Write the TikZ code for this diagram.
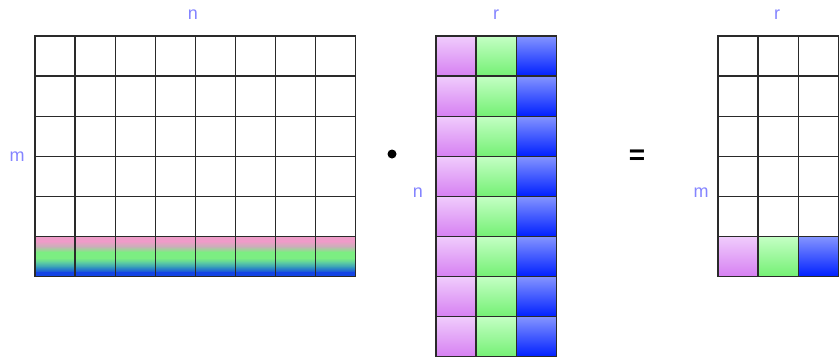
\documentclass[tikz,border=0pt]{standalone}
\usepackage{fontspec}
\setmainfont{Liberation Sans}
\definecolor{rowblue}{HTML}{1444E4}
\definecolor{rowtealb}{HTML}{3090C0}
\definecolor{rowteal}{HTML}{58C8A4}
\definecolor{rowgreen}{HTML}{7CEE82}
\definecolor{rowgray}{HTML}{C4B4B4}
\definecolor{rowpink}{HTML}{EE9CC8}
\definecolor{lbl}{HTML}{8484FF}
\definecolor{gridc}{HTML}{2A2A2A}
\definecolor{pTop}{HTML}{F0CCFC}
\definecolor{pBot}{HTML}{D680F2}
\definecolor{gTop}{HTML}{C4FFC4}
\definecolor{gBot}{HTML}{74F074}
\definecolor{bTop}{HTML}{8494FF}
\definecolor{bBot}{HTML}{0020FF}
\begin{document}
\begin{tikzpicture}[x=1pt,y=-1pt,
  cell/.style={draw=gridc, line width=1.3pt, minimum size=40.1pt, inner sep=0pt, outer sep=0pt},
  pcell/.style={cell, top color=pTop, bottom color=pBot},
  gcell/.style={cell, top color=gTop, bottom color=gBot},
  bcell/.style={cell, top color=bTop, bottom color=bBot},
  lbl/.style={text=lbl, font=\fontsize{18}{20}\selectfont, inner sep=0pt}]
\useasboundingbox (0,0) rectangle (839,357);
% gradient of the last row of the left matrix (top = 236.6, height 40.1)
\def\rt{236.6}
\fill[rowpink] (35,\rt) rectangle (355.8,\rt+5.3);
\shade[top color=rowpink, bottom color=rowgray] (35,\rt+4.8) rectangle (355.8,\rt+10.7);
\shade[top color=rowgray, bottom color=rowgreen] (35,\rt+10.2) rectangle (355.8,\rt+15.5);
\fill[rowgreen] (35,\rt+15) rectangle (355.8,\rt+21.9);
\shade[top color=rowgreen, bottom color=rowteal] (35,\rt+21.4) rectangle (355.8,\rt+26.7);
\shade[top color=rowteal, bottom color=rowtealb] (35,\rt+26.2) rectangle (355.8,\rt+31.5);
\shade[top color=rowtealb, bottom color=rowblue] (35,\rt+31) rectangle (355.8,\rt+36.3);
\fill[rowblue] (35,\rt+35.8) rectangle (355.8,\rt+40.1);
% left matrix m x n
\foreach \i in {0,...,5}{
  \foreach \j in {0,...,7}{
    \node[cell] (A-\i-\j) at (55.05+40.1*\j, 56.05+40.1*\i) {};
  }
}
% middle matrix n x r
\foreach \i in {0,...,7}{
  \node[pcell] (B-\i-0) at (456.05, 56.05+40.1*\i) {};
  \node[gcell] (B-\i-1) at (496.15, 56.05+40.1*\i) {};
  \node[bcell] (B-\i-2) at (536.25, 56.05+40.1*\i) {};
}
% right matrix m x r
\foreach \i in {0,...,4}{
  \foreach \j in {0,...,2}{
    \node[cell] (C-\i-\j) at (738.05+40.1*\j, 56.05+40.1*\i) {};
  }
}
\node[pcell] (C-5-0) at (738.05, 56.05+40.1*5) {};
\node[gcell] (C-5-1) at (778.15, 56.05+40.1*5) {};
\node[bcell] (C-5-2) at (818.25, 56.05+40.1*5) {};
% labels
\node[lbl] (ln1) at (193,15) {n};
\node[lbl] (lm1) at (17,157) {m};
\node[lbl] (lr2) at (496,15) {r};
\node[lbl] (ln2) at (418,193) {n};
\node[lbl] (lr3) at (777,15) {r};
\node[lbl] (lm3) at (701,193) {m};
% operators
\node[circle, fill=black, minimum size=9pt, inner sep=0pt] (dot) at (392,154) {};
\node[inner sep=0pt, font=\fontsize{28}{30}\selectfont\bfseries] (eq) at (637,157) {=};
\end{tikzpicture}
\end{document}
